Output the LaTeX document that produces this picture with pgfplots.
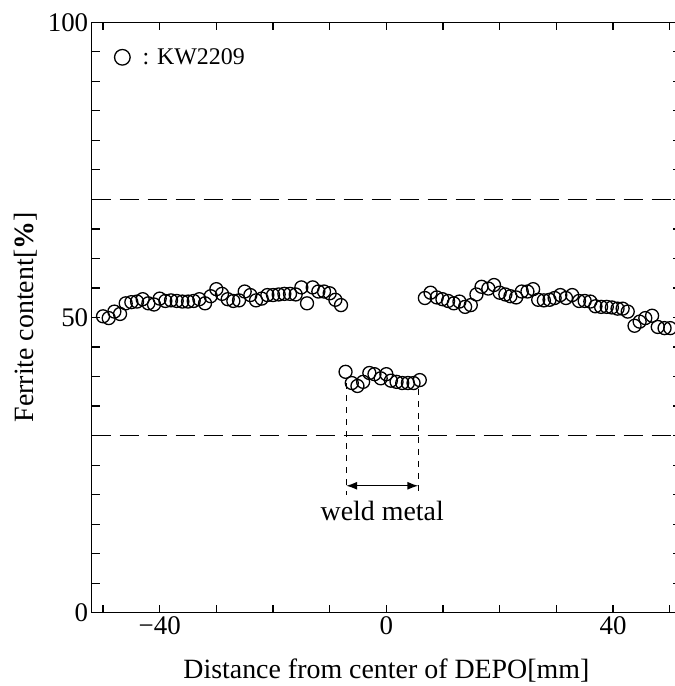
\documentclass[border=0pt]{standalone}
\usepackage{fontspec}
\setmainfont{Liberation Serif}
\usepackage{pgfplots}
\pgfplotsset{compat=1.18}
\usetikzlibrary{arrows.meta}
\begin{document}
\begin{tikzpicture}
\begin{axis}[
  scale only axis, width=589.3bp, height=590.4bp,
  xmin=-52, xmax=52, ymin=0, ymax=100,
  xtick={-40,0,40}, xticklabels={−40,0,40},
  minor xtick={-50,-30,-20,-10,10,20,30,50},
  ytick={0,50,100}, minor y tick num=9,
  tick align=inside, major tick length=8bp, minor tick length=8bp,
  axis line style={line width=1.4bp},
  every tick/.style={line width=1.2bp, black},
  tick label style={font=\fontsize{27}{27}\selectfont},
  /pgf/number format/assume math mode=true,
  xlabel={Distance from center of DEPO[mm]},
  ylabel={Ferrite content[\textbf{\%}]},
  every axis x label/.style={at={(rel axis cs:0.5,0)}, anchor=base, yshift=-66bp, font=\fontsize{28}{28}\selectfont},
  every axis y label/.style={at={(rel axis cs:0,0.5)}, anchor=center, rotate=90, yshift=66bp, font=\fontsize{28}{28}\selectfont},
  legend style={draw=none, fill=none, at={(rel axis cs:0,1)}, anchor=west, xshift=22bp, yshift=-35bp,
    font=\fontsize{24}{24}\selectfont, inner sep=0pt},
  legend image code/.code={\draw[line width=1.3bp] (7.8bp,0) circle (7.8bp); \path[draw=none] (0,0) -- (26bp,0);},
]
\addplot[only marks, mark=o, mark size=6.5bp, mark options={line width=1.3bp, black}] coordinates {
(-50,50.2)(-49,49.9)(-48,51.0)(-47,50.6)(-46,52.4)(-45,52.6)(-44,52.7)(-43,53.1)(-42,52.4)(-41,52.2)
(-40,53.2)(-39,52.8)(-38,52.9)(-37,52.8)(-36,52.7)(-35,52.7)(-34,52.8)(-33,53.1)(-32,52.4)(-31,53.6)
(-30,54.8)(-29,54.0)(-28,53.1)(-27,52.8)(-26,52.9)(-25,54.4)(-24,53.8)(-23,52.9)(-22,53.2)(-21,53.8)
(-20,53.8)(-19,53.9)(-18,54.0)(-17,54.0)(-16,53.9)(-15,55.1)(-14,52.4)(-13,55.1)(-12,54.4)(-11,54.4)
(-10,54.1)(-9,53.0)(-8,52.1)
(-7.2,40.8)(-6.1,38.9)(-5.1,38.4)(-4.1,39.1)(-3.0,40.6)(-2.1,40.4)(-1.0,39.7)(0,40.4)(0.8,39.3)
(1.8,39.1)(2.8,38.9)(3.8,38.9)(4.8,38.9)(5.9,39.4)
(6.8,53.3)(7.8,54.2)(8.9,53.4)(9.9,53.1)(10.9,52.8)(11.9,52.4)(12.9,52.7)(13.9,51.8)(14.9,52.1)
(15.9,53.9)(16.8,55.2)(18.0,54.9)(19.0,55.5)(20.0,54.2)(21.0,53.9)(21.9,53.6)(22.9,53.4)(23.9,54.4)
(24.9,54.4)(25.9,54.8)(26.8,53.0)(27.8,52.9)(28.8,53.0)(29.7,53.3)(30.7,53.8)(31.7,53.3)(32.8,53.8)
(34.0,52.8)(35.0,52.8)(36.0,52.7)(36.9,51.9)(37.9,51.8)(38.9,51.8)(39.8,51.7)(40.8,51.5)(41.7,51.5)
(42.6,51.0)(43.8,48.6)(44.7,49.3)(45.7,49.9)(46.9,50.3)(47.9,48.4)(49.1,48.2)(50.1,48.2)
};
\addlegendentry{: KW2209}
\addplot[black, line width=1.2bp, dash pattern=on 19bp off 9bp, forget plot] coordinates {(-52,70)(52,70)};
\addplot[black, line width=1.2bp, dash pattern=on 19bp off 9bp, forget plot] coordinates {(-52,30)(52,30)};
\addplot[black, line width=1.1bp, dash pattern=on 6bp off 6bp, forget plot] coordinates {(-7.1,38.9)(-7.1,19.9)};
\addplot[black, line width=1.1bp, dash pattern=on 6bp off 6bp, forget plot] coordinates {(5.65,37.9)(5.65,19.9)};
\draw[{Latex[length=11bp,width=8bp]}-{Latex[length=11bp,width=8bp]}, line width=1.3bp] (axis cs:-7.1,21.5) -- (axis cs:5.65,21.5);
\node[anchor=base, font=\fontsize{28}{28}\selectfont, inner sep=0pt] at (axis cs:-0.72,15.6) {weld metal};
\coordinate (SW) at (rel axis cs:0,0);
\coordinate (NE) at (rel axis cs:1,1);
\end{axis}
\pgfresetboundingbox
\path[use as bounding box] ([shift={(-91.7bp,-73.3bp)}]SW) rectangle ([shift={(-6bp,22.3bp)}]NE);
\end{tikzpicture}
\end{document}
